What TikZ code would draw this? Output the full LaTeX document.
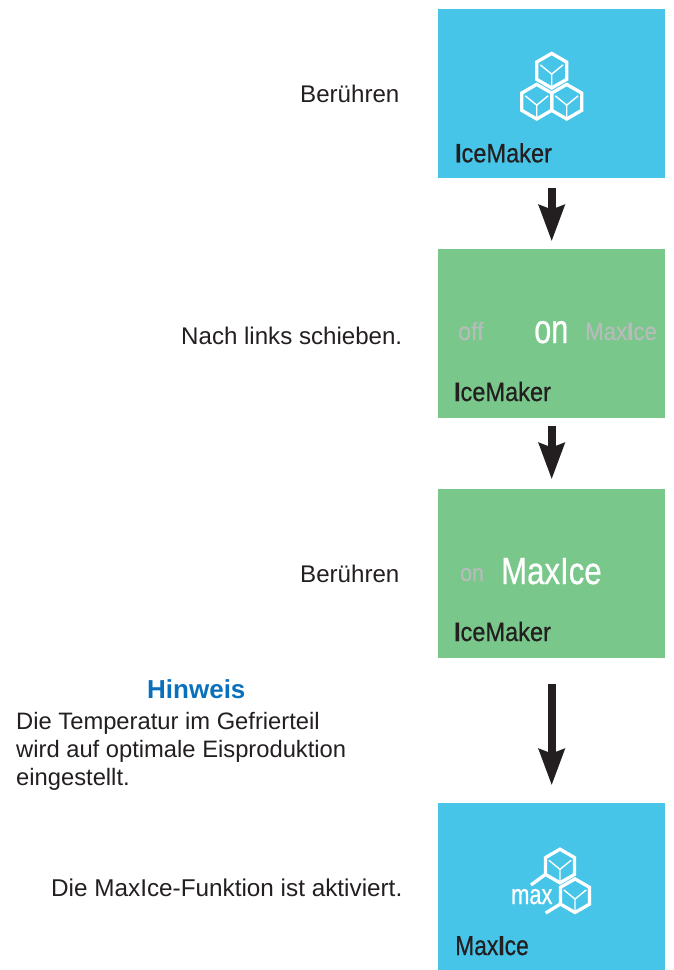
\documentclass[tikz,border=0pt]{standalone}
\usepackage{fontspec}
\usepackage{graphicx}
\setmainfont{Liberation Sans}
\newfontfamily\dispfont[FakeBold=0.6]{Liberation Sans}
\usetikzlibrary{arrows.meta}
\definecolor{panelblue}{HTML}{47C5E8}
\definecolor{panelgreen}{HTML}{79C78A}
\definecolor{inkdark}{HTML}{231F20}
\definecolor{dimgrey}{HTML}{B6BCBA}
\definecolor{notehead}{HTML}{0A70BC}
\newcommand\cond[3]{\scalebox{#1}[1]{\dispfont\fontsize{#2}{#2}\selectfont #3}}
\newcommand\bodysize[1]{\fontsize{#1}{28}\selectfont}
\tikzset{
  panel/.style={inner sep=0pt,minimum width=227pt,minimum height=#1,anchor=north west},
  title/.style={inner sep=0pt,anchor=base west,text=inkdark},
  lighttext/.style={inner sep=0pt,anchor=base west,text=white},
  dimtext/.style={inner sep=0pt,anchor=base west,text=dimgrey},
  instruction/.style={inner sep=0pt,anchor=base west,text=inkdark,font=\bodysize{#1}},
  flowarrow/.style={draw=inkdark,line width=8pt,-{Stealth[length=36pt,width=25pt,inset=4pt,fill=inkdark]}},
  icecube/.pic={
    \draw[white,line width=3.3pt,line join=miter]
      (0,-#1) -- ({.866*#1},{-.5*#1}) -- ({.866*#1},{.5*#1}) -- (0,#1)
      -- ({-.866*#1},{.5*#1}) -- ({-.866*#1},{-.5*#1}) -- cycle;
    \draw[white,line width=1.4pt]
      ({-.66*#1},{-.34*#1}) -- (0,{.2*#1}) -- ({.66*#1},{-.34*#1})
      (0,{.2*#1}) -- (0,{.9*#1});
  },
}
\begin{document}
\begin{tikzpicture}[x=1pt,y=-1pt]
\useasboundingbox (0,0) rectangle (673,970);
% panels
\node[panel=169pt,fill=panelblue] (p1) at (438,9) {};
\node[panel=169pt,fill=panelgreen] (p2) at (438,249) {};
\node[panel=169pt,fill=panelgreen] (p3) at (438,489) {};
\node[panel=167pt,fill=panelblue] (p4) at (438,803) {};
% connectors
\draw[flowarrow,shorten <=10pt,shorten >=7.5pt] (p1) -- (p2);
\draw[flowarrow,shorten <=8pt,shorten >=9.5pt] (p2) -- (p3);
\draw[flowarrow,shorten <=26pt,shorten >=17.5pt] (p3) -- (p4);
% icon 1
\pic at (551.7,70.7) {icecube=17.3};
\pic at (536.7,101.7) {icecube=17.3};
\pic at (566.7,101.7) {icecube=17.3};
% icon 2
\pic at (560,866) {icecube=16.8};
\pic at (575,895.7) {icecube=16.8};
\coordinate (t1) at (545.4,874.4);
\coordinate (t2) at (531,885);
\coordinate (t3) at (560.4,904);
\coordinate (t4) at (545.7,913);
\draw[white,line width=3.3pt] (t1) -- (t2) (t3) -- (t4);
\node[lighttext] (mx) at (511,904) {\cond{.78}{28}{max}};
% panel titles
\node[title] (t-a) at (454.8,162.3) {\cond{.89}{26.5}{{\bfseries I}ceMaker}};
\node[title] (t-b) at (453.8,401) {\cond{.89}{26.5}{{\bfseries I}ceMaker}};
\node[title] (t-c) at (453.8,641) {\cond{.89}{26.5}{{\bfseries I}ceMaker}};
\node[title] (t-d) at (455,955) {\cond{.83}{27.5}{Max{\bfseries I}ce}};
% panel 2 options
\node[dimtext] (o1) at (458,340) {\cond{.93}{25}{off}};
\node[lighttext] (o2) at (534,343) {\cond{.75}{41}{on}};
\node[dimtext] (o3) at (585,340) {\cond{.89}{25}{Max{\bfseries I}ce}};
% panel 3 options
\node[dimtext] (o4) at (460,581) {\cond{.89}{24}{on}};
\node[lighttext] (o5) at (501,584) {\cond{.82}{38}{MaxIce}};
% left texts
\node[instruction=24.1] (s1) at (300,102) {Berühren};
\node[instruction=24.1] (s2) at (181,344) {Nach links schieben.};
\node[instruction=24.1] (s3) at (300,582) {Berühren};
\node[inner sep=0pt,anchor=base west,text=notehead,font=\fontsize{26}{28}\selectfont\bfseries] (h) at (147,698) {Hinweis};
\node[instruction=23.75] (n1) at (16,729) {Die Temperatur im Gefrierteil};
\node[instruction=23.75] (n2) at (16,757) {wird auf optimale Eisproduktion};
\node[instruction=23.75] (n3) at (16,785) {eingestellt.};
\node[instruction=24.3] (s4) at (51,896) {Die MaxIce-Funktion ist aktiviert.};
\end{tikzpicture}
\end{document}
